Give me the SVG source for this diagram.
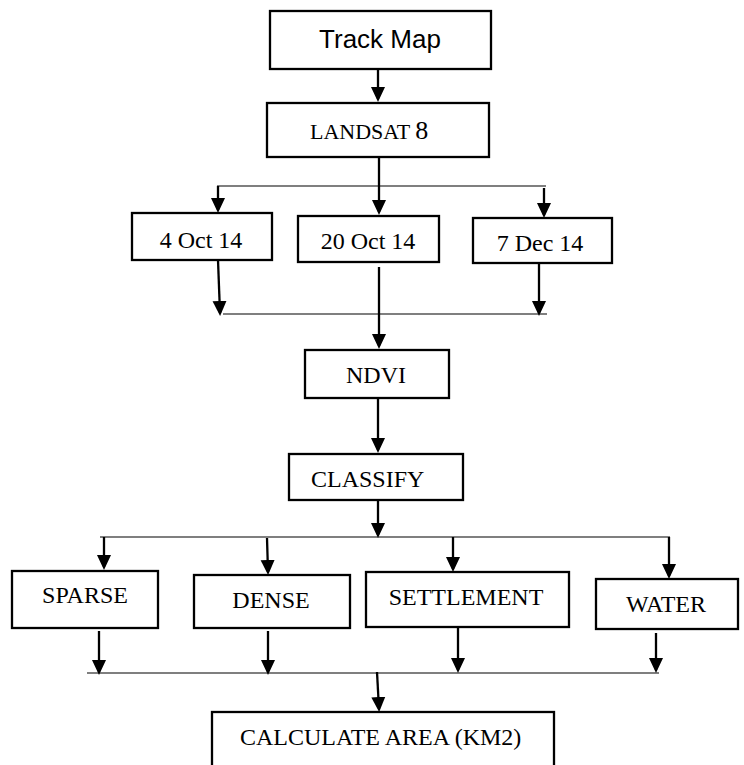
<svg xmlns="http://www.w3.org/2000/svg" width="744" height="765" viewBox="0 0 744 765">
<style>
.box{fill:#fff;stroke:#000;stroke-width:2.3}
.t{font-family:"Liberation Serif","Times New Roman",serif;font-size:24px;fill:#000}
.s{font-family:"Liberation Sans",Arial,sans-serif;font-size:26px;fill:#000}
.m{text-anchor:middle}
.a{stroke:#000;stroke-width:2.3;fill:none;marker-end:url(#ah)}
.l{stroke:#000;stroke-width:1.2;fill:none}
.v{stroke:#000;stroke-width:2.3;fill:none}
</style>
<defs>
<marker id="ah" markerUnits="userSpaceOnUse" markerWidth="16" markerHeight="16" viewBox="0 -8 16 16" refX="12" refY="0" orient="auto">
<path d="M0,-7 L15,0 L0,7 z" fill="#000"/>
</marker>
</defs>
<rect width="744" height="765" fill="#fff"/>
<g id="connectors">
<line class="a" x1="378" y1="69" x2="378" y2="99"/>
<line class="v" x1="379" y1="157" x2="379" y2="186"/>
<line class="l" x1="217" y1="186" x2="546" y2="186"/>
<line class="a" x1="218" y1="186" x2="218" y2="210"/>
<line class="a" x1="379" y1="186" x2="379" y2="212"/>
<line class="a" x1="544" y1="188" x2="544" y2="215"/>
<line class="a" x1="218" y1="260" x2="220" y2="313"/>
<line class="a" x1="539" y1="263" x2="539" y2="313"/>
<line class="l" x1="223" y1="314" x2="547" y2="314"/>
<line class="a" x1="379" y1="267" x2="379" y2="346"/>
<line class="a" x1="378" y1="398" x2="378" y2="450"/>
<line class="a" x1="378" y1="500" x2="378" y2="535"/>
<line class="l" x1="100" y1="537" x2="670" y2="537"/>
<line class="a" x1="104" y1="537" x2="104" y2="567"/>
<line class="a" x1="267" y1="538" x2="268" y2="572"/>
<line class="a" x1="453" y1="537" x2="453" y2="569"/>
<line class="a" x1="669" y1="537" x2="669" y2="576"/>
<line class="a" x1="99" y1="631" x2="99" y2="672"/>
<line class="a" x1="268" y1="631" x2="268" y2="672"/>
<line class="a" x1="458" y1="628" x2="458" y2="670"/>
<line class="a" x1="656" y1="633" x2="656" y2="670"/>
<line class="l" x1="87" y1="673" x2="659" y2="673"/>
<line class="a" x1="377" y1="672" x2="379" y2="709"/>
</g>
<g id="track-map"><rect class="box" x="270" y="11" width="221" height="58"/><text class="s m" x="380" y="48">Track Map</text></g>
<g id="landsat"><rect class="box" x="267" y="103" width="222" height="54"/><text class="t" x="310" y="139" style="font-size:22px">LANDSAT <tspan style="font-size:26px">8</tspan></text></g>
<g id="oct4"><rect class="box" x="132" y="213" width="140" height="47"/><text class="t m" x="201" y="248">4 Oct 14</text></g>
<g id="oct20"><rect class="box" x="298" y="216" width="141" height="46"/><text class="t m" x="368" y="249">20 Oct 14</text></g>
<g id="dec7"><rect class="box" x="473" y="218" width="139" height="45"/><text class="t m" x="540" y="251">7 Dec 14</text></g>
<g id="ndvi"><rect class="box" x="305" y="350" width="144" height="48"/><text class="t m" x="376" y="383">NDVI</text></g>
<g id="classify"><rect class="box" x="289" y="454" width="174" height="46"/><text class="t" x="311" y="487">CLASSIFY</text></g>
<g id="sparse"><rect class="box" x="12" y="571" width="146" height="57"/><text class="t m" x="85" y="603">SPARSE</text></g>
<g id="dense"><rect class="box" x="194" y="575" width="156" height="53"/><text class="t m" x="271" y="608">DENSE</text></g>
<g id="settlement"><rect class="box" x="366" y="572" width="203" height="55"/><text class="t m" x="466" y="605">SETTLEMENT</text></g>
<g id="water"><rect class="box" x="596" y="579" width="142" height="50"/><text class="t m" x="666" y="612">WATER</text></g>
<g id="calculate-area"><rect class="box" x="212" y="712" width="342" height="62"/><text class="t" x="240" y="745">CALCULATE AREA (KM2)</text></g>
</svg>
